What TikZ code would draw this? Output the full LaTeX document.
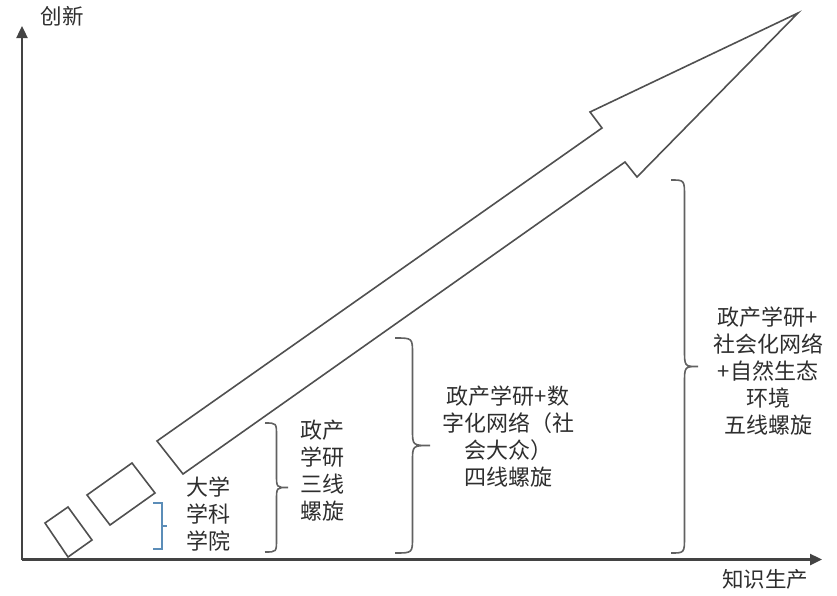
\documentclass[tikz,border=0pt]{standalone}
\usepackage{fontspec}
\setmainfont{Noto Sans CJK SC}
\usetikzlibrary{arrows.meta}
\definecolor{ink}{HTML}{2E2E2E}
\definecolor{edge}{HTML}{505050}
\definecolor{bluebr}{HTML}{5B8DB8}
\newcommand{\mybrace}[5]{%
 \pgfmathsetmacro\bxm{#1+#4/2}%
 \pgfmathsetmacro\bym{(#2+#3)/2}%
 \draw[bracestyle] (#1,#2) .. controls (\bxm,#2) .. (\bxm,#2+#5) -- (\bxm,\bym-#5) .. controls (\bxm,\bym) .. (#1+#4,\bym) .. controls (\bxm,\bym) .. (\bxm,\bym+#5) -- (\bxm,#3-#5) .. controls (\bxm,#3) .. (#1,#3);}
\begin{document}
\begin{tikzpicture}[x=1pt,y=-1pt,
  axis/.style={draw=ink!90, line width=2.4pt, -{Triangle[length=12pt,width=11pt]}},
  outline/.style={draw=edge, line width=1.6pt, line join=miter},
  bracestyle/.style={draw=edge!90, line width=1.6pt},
  lbl/.style={align=center, text=ink, inner sep=0pt, font=\fontsize{22}{27}\selectfont},
  axlbl/.style={text=ink, inner sep=0pt, font=\fontsize{21.5}{25}\selectfont}]
\useasboundingbox (0,0) rectangle (837,595);
% axes
\coordinate (o) at (22,559.5);
\coordinate (ytop) at (22,26);
\coordinate (xend) at (822,559.5);
\draw[axis] (o) -- (ytop);
\draw[axis] (o) -- (xend);
\node[axlbl] (ylab) at (62,16) {创新};
\node[axlbl] (xlab) at (765,579) {知识生产};
% small boxes
\draw[outline] (45,523) -- (68,507) -- (92,540) -- (68,557) -- cycle;
\draw[outline] (87,495) -- (132,463) -- (155,493) -- (110,525) -- cycle;
% big arrow
\draw[outline] (157,441) -- (602,128) -- (590,112) -- (798,13) -- (637,177) -- (625,162) -- (183,474) -- cycle;
% blue bracket
\draw[draw=bluebr, line width=1.2pt] (153,503) -- (162,503) -- (162,549) -- (153,549) (162,526) -- (167,526);
% braces
\mybrace{265}{423}{552}{23}{13}
\mybrace{395}{338}{553}{35}{16}
\mybrace{671}{180}{553}{27}{17}
% labels
\node[lbl] (t1) at (208,514) {大学\\学科\\学院};
\node[lbl] (t2) at (322,471) {政产\\学研\\三线\\螺旋};
\node[lbl] (t3) at (508,437) {政产学研+数\\字化网络（社\\会大众）\\四线螺旋};
\node[lbl] (t4) at (768,371) {政产学研+\\社会化网络\\+自然生态\\环境\\五线螺旋};
\end{tikzpicture}
\end{document}
